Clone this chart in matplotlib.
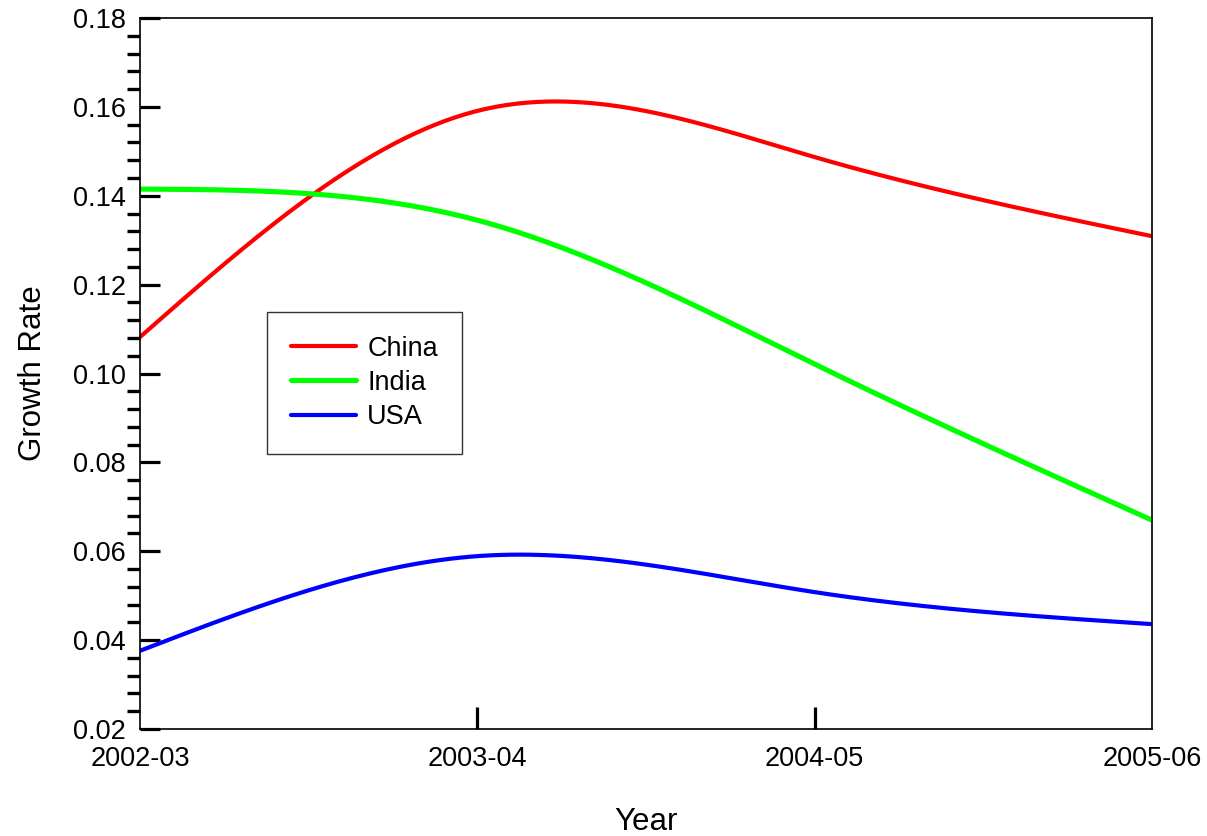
import numpy as np
import matplotlib
matplotlib.use("Agg")
from matplotlib import pyplot as plt
from matplotlib.ticker import MultipleLocator, FormatStrFormatter

plt.rcParams['font.family'] = ['Liberation Sans', 'DejaVu Sans']

years = ['2002-03', '2003-04', '2004-05', '2005-06']
china = [0.1082, 0.1591, 0.1487, 0.1309]
india = [0.1415, 0.1345, 0.1021, 0.0670]
usa = [0.0376, 0.0589, 0.0508, 0.0436]


def smooth(y, n=200):
    # natural cubic spline through the points, for drawing only
    y = np.asarray(y, dtype=float)
    k = len(y)
    A = np.zeros((k, k))
    b = np.zeros(k)
    A[0, 0] = A[-1, -1] = 1
    for i in range(1, k - 1):
        A[i, i - 1], A[i, i], A[i, i + 1] = 1, 4, 1
        b[i] = 6 * (y[i + 1] - 2 * y[i] + y[i - 1])
    m = np.linalg.solve(A, b)
    xs = np.linspace(0, k - 1, n)
    idx = np.minimum(xs.astype(int), k - 2)
    t = xs - idx
    ys = ((1 - t) * y[idx] + t * y[idx + 1]
          + ((1 - t) ** 3 - (1 - t)) * m[idx] / 6
          + (t ** 3 - t) * m[idx + 1] / 6)
    return xs, ys


fig = plt.figure(figsize=(12.07, 8.36), dpi=100)
ax = fig.add_axes([140 / 1207, 1 - 729 / 836, 1012 / 1207, 711 / 836])

for vals, col, lw, name in [(china, '#ff0000', 3.0, 'China'),
                            (india, '#00ff00', 3.7, 'India'),
                            (usa, '#0000ff', 3.0, 'USA')]:
    xs, ys = smooth(vals)
    ax.plot(xs, ys, color=col, lw=lw, label=name, solid_capstyle='round')

ax.set_xlim(0, 3)
ax.set_ylim(0.02, 0.18)
ax.set_xticks(range(len(years)))
ax.set_xticklabels(years)
ax.yaxis.set_major_locator(MultipleLocator(0.02))
ax.yaxis.set_minor_locator(MultipleLocator(0.004))
ax.yaxis.set_major_formatter(FormatStrFormatter('%.2f'))

ax.tick_params(axis='y', which='major', direction='in', length=14.5, width=2.3,
               labelsize=19.5, pad=10)
ax.tick_params(axis='y', which='minor', direction='out', length=9.5, width=2.4)
ax.tick_params(axis='x', which='major', direction='in', length=16, width=2.3,
               labelsize=19.5, pad=12.5)
xt = ax.xaxis.get_major_ticks()
xt[0].tick1line.set_visible(False)
xt[-1].tick1line.set_visible(False)

for sp in ax.spines.values():
    sp.set_linewidth(1.2)

ax.set_xlabel('Year', fontsize=22.5, labelpad=25)
ax.set_ylabel('Growth Rate', fontsize=22.5, labelpad=18)

leg = ax.legend(loc='upper left', bbox_to_anchor=(127 / 1012, 1 - 294 / 711),
                fontsize=19.5, frameon=True, fancybox=False, borderpad=0.88,
                handlelength=2.4, handletextpad=0.42, labelspacing=0.3,
                borderaxespad=0)
leg.get_frame().set_edgecolor('black')
leg.get_frame().set_linewidth(1.0)

fig.savefig('out.png', dpi=100)
